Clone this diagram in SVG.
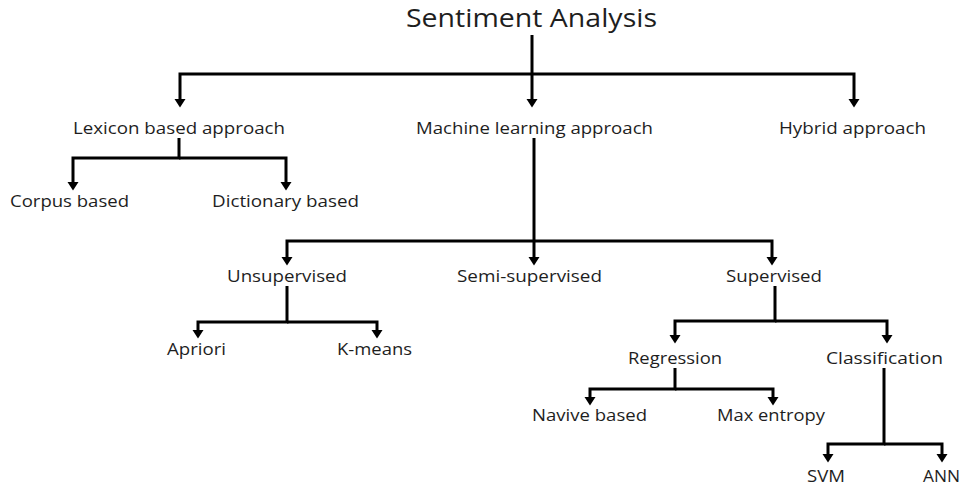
<svg xmlns="http://www.w3.org/2000/svg" width="963" height="488" viewBox="0 0 963 488">
<style>
text{font-family:"Open Sans","Liberation Sans",sans-serif;fill:#1e1e1e;text-anchor:middle}
.t{font-size:25px}
.n{font-size:17px}
#connectors path{fill:none;stroke:#000;stroke-width:3;stroke-linejoin:miter}
.a{marker-end:url(#arr)}
</style>
<defs>
<marker id="arr" markerUnits="userSpaceOnUse" markerWidth="12" markerHeight="12" viewBox="0 -6 10 12" refX="0" refY="0" orient="auto">
<path d="M0,-5.5 L8.5,0 L0,5.5 z" fill="#000"/>
</marker>
</defs>
<rect width="963" height="488" fill="#fff"/>
<g id="connectors">
<path class="a" d="M532,35 V99"/>
<path class="a" d="M532,74 H180 V99"/>
<path class="a" d="M532,74 H854 V99"/>
<path class="a" d="M179,138 V158 H73 V182"/>
<path class="a" d="M179,158 H286 V182"/>
<path class="a" d="M534,138 V257"/>
<path class="a" d="M534,241 H287 V257"/>
<path class="a" d="M534,241 H772 V257"/>
<path class="a" d="M287,286 V322 H198 V330"/>
<path class="a" d="M287,322 H377 V330"/>
<path class="a" d="M775,286 V321 H675 V335"/>
<path class="a" d="M775,321 H887 V335"/>
<path class="a" d="M675,368 V389 H590 V397"/>
<path class="a" d="M675,389 H773 V397"/>
<path class="a" d="M884,368 V444 H828 V454"/>
<path class="a" d="M884,444 H942 V454"/>
</g>
<g id="n-root"><text class="t" x="531.5" y="27" textLength="251" lengthAdjust="spacingAndGlyphs">Sentiment Analysis</text></g>
<g id="n-lexicon"><text class="n" x="179" y="134" textLength="212" lengthAdjust="spacingAndGlyphs">Lexicon based approach</text></g>
<g id="n-ml"><text class="n" x="534.5" y="134" textLength="237" lengthAdjust="spacingAndGlyphs">Machine learning approach</text></g>
<g id="n-hybrid"><text class="n" x="852.5" y="134" textLength="147" lengthAdjust="spacingAndGlyphs">Hybrid approach</text></g>
<g id="n-corpus"><text class="n" x="69.5" y="207" textLength="119" lengthAdjust="spacingAndGlyphs">Corpus based</text></g>
<g id="n-dictionary"><text class="n" x="285.5" y="207" textLength="147" lengthAdjust="spacingAndGlyphs">Dictionary based</text></g>
<g id="n-unsupervised"><text class="n" x="287" y="282" textLength="120" lengthAdjust="spacingAndGlyphs">Unsupervised</text></g>
<g id="n-semi"><text class="n" x="529.5" y="282" textLength="145" lengthAdjust="spacingAndGlyphs">Semi-supervised</text></g>
<g id="n-supervised"><text class="n" x="774" y="282" textLength="96" lengthAdjust="spacingAndGlyphs">Supervised</text></g>
<g id="n-apriori"><text class="n" x="196.5" y="355" textLength="59" lengthAdjust="spacingAndGlyphs">Apriori</text></g>
<g id="n-kmeans"><text class="n" x="374.5" y="355" textLength="75" lengthAdjust="spacingAndGlyphs">K-means</text></g>
<g id="n-regression"><text class="n" x="675" y="364" textLength="94" lengthAdjust="spacingAndGlyphs">Regression</text></g>
<g id="n-classification"><text class="n" x="884.5" y="364" textLength="117" lengthAdjust="spacingAndGlyphs">Classification</text></g>
<g id="n-navive"><text class="n" x="589.5" y="421" textLength="115" lengthAdjust="spacingAndGlyphs">Navive based</text></g>
<g id="n-maxent"><text class="n" x="771" y="421" textLength="108" lengthAdjust="spacingAndGlyphs">Max entropy</text></g>
<g id="n-svm"><text class="n" x="826" y="482" textLength="38" lengthAdjust="spacingAndGlyphs">SVM</text></g>
<g id="n-ann"><text class="n" x="941.5" y="482" textLength="37" lengthAdjust="spacingAndGlyphs">ANN</text></g>
</svg>
